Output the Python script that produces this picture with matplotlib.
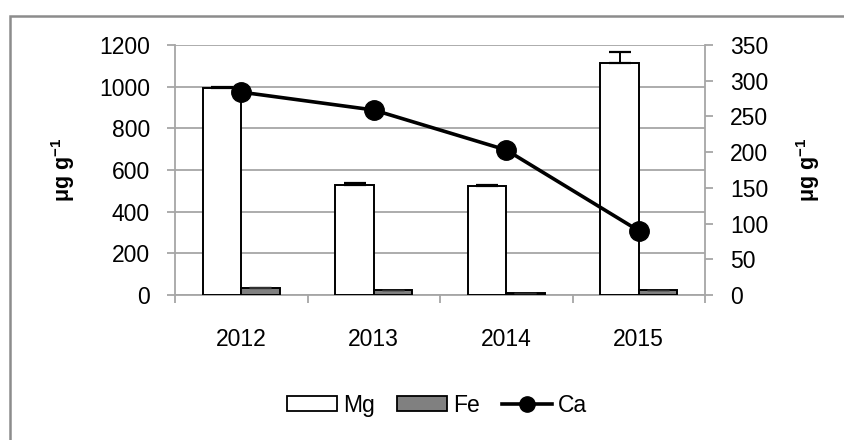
import matplotlib.pyplot as plt
import numpy as np
from matplotlib.lines import Line2D
from matplotlib.patches import Patch, Rectangle

years = ["2012", "2013", "2014", "2015"]
mg = [994, 528, 522, 1114]
mg_err = [3, 10, 6, 54]
fe = [34, 22, 8, 23]
fe_err = [3, 3, 2, 3]
ca = [284, 259, 203, 90]

plt.rcParams["font.family"] = ["Liberation Sans", "DejaVu Sans"]
plt.rcParams["font.size"] = 16.5
plt.rcParams["mathtext.default"] = "regular"

fig = plt.figure(figsize=(8.44, 4.40), dpi=100)
ax = fig.add_axes([175 / 844, 1 - 295 / 440, 530 / 844, 250 / 440])

x = np.arange(len(years))
w = 0.29
grid_c = "#a6a6a6"

ax.bar(x - w / 2, mg, w, color="white", edgecolor="black", linewidth=1.4, zorder=3)
ax.bar(x + w / 2, fe, w, color="#808080", edgecolor="black", linewidth=1.4, zorder=3)
ax.errorbar(x - w / 2, mg, yerr=[np.zeros(4), mg_err], fmt="none", ecolor="black",
            elinewidth=1.4, capsize=8, capthick=1.6, zorder=4)
ax.errorbar(x + w / 2, fe, yerr=[np.zeros(4), fe_err], fmt="none", ecolor="#303030",
            elinewidth=1.0, capsize=8, capthick=1.0, zorder=4)

ax.set_xlim(-0.5, 3.5)
ax.set_ylim(0, 1200)
ax.set_yticks(range(0, 1201, 200))
ax.yaxis.grid(True, color=grid_c, linewidth=1.3, zorder=0)
ax.set_axisbelow(True)
ax.set_xticks(x)
ax.set_xticklabels(years)
ax.set_xticks(np.arange(-0.5, 4.0, 1.0), minor=True)
ax.tick_params(axis="x", which="major", length=0, pad=24)
ax.tick_params(axis="x", which="minor", length=6, color=grid_c, width=1.3)
ax.tick_params(axis="y", length=6, color=grid_c, width=1.3, pad=12)
for s in ["top", "right"]:
    ax.spines[s].set_visible(False)
for s in ["left", "bottom"]:
    ax.spines[s].set_color(grid_c)
    ax.spines[s].set_linewidth(1.3)

ax2 = ax.twinx()
ax2.plot(x, ca, color="black", linewidth=2.6, marker="o", markersize=14, zorder=5)
ax2.set_ylim(0, 350)
ax2.set_yticks(range(0, 351, 50))
ax2.tick_params(axis="y", length=6, color=grid_c, width=1.3, pad=12)
for s in ["top", "left", "bottom"]:
    ax2.spines[s].set_visible(False)
ax2.spines["right"].set_color(grid_c)
ax2.spines["right"].set_linewidth(1.3)

unit = "μg g$^{-1}$"
fig.text(63 / 844, 1 - 170 / 440, unit, rotation=90, ha="center", va="center",
         fontweight="bold", fontsize=15.5)
fig.text(808 / 844, 1 - 170 / 440, unit, rotation=90, ha="center", va="center",
         fontweight="bold", fontsize=15.5)

handles = [
    Patch(facecolor="white", edgecolor="black", linewidth=1.3, label="Mg"),
    Patch(facecolor="#808080", edgecolor="black", linewidth=1.3, label="Fe"),
    Line2D([0], [0], color="black", linewidth=2.6, marker="o", markersize=11, label="Ca"),
]
fig.legend(handles=handles, loc="center", bbox_to_anchor=(437 / 844, 1 - 405 / 440),
           ncol=3, frameon=False, handlelength=2.2, handleheight=0.65,
           handletextpad=0.26, columnspacing=0.95, borderpad=0, fontsize=16.5)

# outer chart frame
fig.patches.append(Rectangle((10 / 844, -0.05), 1.0, 1 - 16 / 440 + 0.05,
                             transform=fig.transFigure, fill=False,
                             edgecolor="#8c8c8c", linewidth=1.8))

fig.savefig("out.png", dpi=100)
